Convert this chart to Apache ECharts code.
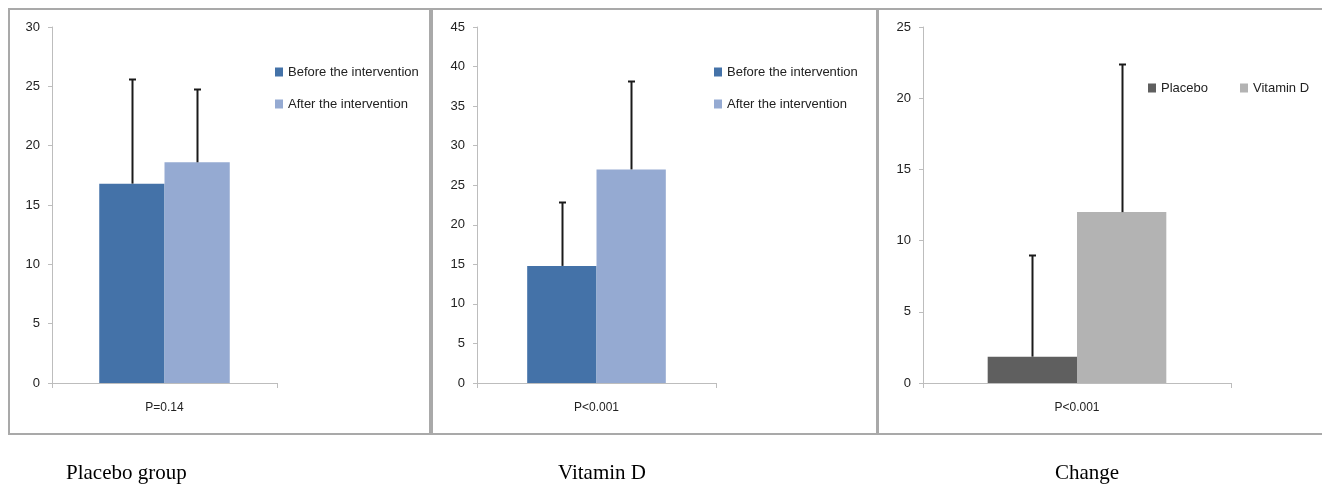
<!DOCTYPE html>
<html>
<head>
<meta charset="utf-8">
<script src="https://cdn.jsdelivr.net/npm/echarts@6/dist/echarts.min.js"></script>
<style>
html,body{margin:0;padding:0;background:#fff;}
#chart{width:1322px;height:490px;}
</style>
</head>
<body>
<div id="chart"></div>
<script>
// ---- Data ----
const categories1 = ['P=0.14'];
const categories2 = ['P<0.001'];
const categories3 = ['P<0.001'];
const legendNames12 = ['Before the intervention', 'After the intervention'];
const legendNames3 = ['Placebo', 'Vitamin D'];
const placeboBefore = [16.8];
const placeboAfter = [18.6];
const placeboBeforeSD = [8.8];
const placeboAfterSD = [6.2];
const vitdBefore = [14.8];
const vitdAfter = [27.0];
const vitdBeforeSD = [8.1];
const vitdAfterSD = [11.2];
const changePlacebo = [1.85];
const changeVitD = [12.0];
const changePlaceboSD = [7.15];
const changeVitDSD = [10.4];
const yMax = [30, 45, 25];
const panelTitles = ['Placebo group', 'Vitamin D', 'Change'];

const GAP = 0.42;
const FONT = 'Liberation Sans';

function errSeries(axisIdx, means, sds, side) {
  return {
    type: 'custom',
    xAxisIndex: axisIdx, yAxisIndex: axisIdx,
    z: 5,
    silent: true,
    data: means.map((m, i) => [i, m, sds[i]]),
    renderItem: function (params, api) {
      const idx = api.value(0);
      const band = api.size([1, 0])[0];
      const barW = band * (1 - GAP) / 2;
      const x0 = api.coord([idx, 0])[0];
      const cx = Math.round(x0 + side * barW / 2) + 0.5;
      const yb = api.coord([idx, api.value(1)])[1];
      const yt = Math.round(api.coord([idx, api.value(1) + api.value(2)])[1]) + 0.5;
      const st = { stroke: '#1a1a1a', lineWidth: 2 };
      return {
        type: 'group',
        children: [
          { type: 'line', shape: { x1: cx, y1: yb, x2: cx, y2: yt }, style: st },
          { type: 'line', shape: { x1: cx - 3.5, y1: yt, x2: cx + 3.5, y2: yt }, style: st }
        ]
      };
    }
  };
}

const grids = [
  { left: 52, top: 27, width: 225, height: 356 },
  { left: 477, top: 27, width: 239, height: 356 },
  { left: 923, top: 27, width: 308, height: 356 }
];
const cats = [categories1, categories2, categories3];

const axisColor = '#bdbdbd';
const xAxes = cats.map((c, i) => ({
  type: 'category', gridIndex: i, data: c,
  axisLine: { lineStyle: { color: axisColor, width: 1 } },
  axisTick: { show: true, length: 5, lineStyle: { color: axisColor } },
  axisLabel: { color: '#222', fontSize: 12, fontFamily: FONT, margin: 19 }
}));
const yAxes = yMax.map((m, i) => ({
  type: 'value', gridIndex: i, min: 0, max: m, interval: 5,
  axisLine: { show: true, lineStyle: { color: axisColor, width: 1 } },
  axisTick: { show: true, length: 4, lineStyle: { color: axisColor } },
  splitLine: { show: false },
  axisLabel: { color: '#222', fontSize: 13, fontFamily: FONT, margin: 12 }
}));

const cBefore = '#4472a8', cAfter = '#95aad2', cPlac = '#5f5f5f', cVit = '#b3b3b3';

function bar(name, axisIdx, data, color) {
  return {
    name: name, type: 'bar', xAxisIndex: axisIdx, yAxisIndex: axisIdx,
    data: data, barGap: '0%', barCategoryGap: (GAP * 100) + '%',
    itemStyle: { color: color }, z: 2
  };
}

const series = [
  bar(legendNames12[0], 0, placeboBefore, cBefore),
  bar(legendNames12[1], 0, placeboAfter, cAfter),
  errSeries(0, placeboBefore, placeboBeforeSD, -1),
  errSeries(0, placeboAfter, placeboAfterSD, 1),
  bar(legendNames12[0], 1, vitdBefore, cBefore),
  bar(legendNames12[1], 1, vitdAfter, cAfter),
  errSeries(1, vitdBefore, vitdBeforeSD, -1),
  errSeries(1, vitdAfter, vitdAfterSD, 1),
  bar(legendNames3[0], 2, changePlacebo, cPlac),
  bar(legendNames3[1], 2, changeVitD, cVit),
  errSeries(2, changePlacebo, changePlaceboSD, -1),
  errSeries(2, changeVitD, changeVitDSD, 1)
];

const legendText = { fontSize: 13, fontFamily: FONT, color: '#222', lineHeight: 14 };
const legendBase = { padding: 0, itemWidth: 8, itemHeight: 9, icon: 'rect', textStyle: legendText, selectedMode: false };
const legends = [
  Object.assign({ data: legendNames12, left: 275, top: 65, orient: 'vertical', itemGap: 18 }, legendBase),
  Object.assign({ data: legendNames12, left: 714, top: 65, orient: 'vertical', itemGap: 18 }, legendBase),
  Object.assign({ data: legendNames3, left: 1148, top: 81, orient: 'horizontal', itemGap: 32 }, legendBase)
];

const frameStyle = { fill: 'none', stroke: '#a9a9a9', lineWidth: 2 };
const graphics = [
  { type: 'rect', shape: { x: 9, y: 9, width: 421, height: 425 }, style: frameStyle, silent: true },
  { type: 'rect', shape: { x: 432, y: 9, width: 445, height: 425 }, style: frameStyle, silent: true },
  { type: 'rect', shape: { x: 878, y: 9, width: 460, height: 425 }, style: frameStyle, silent: true },
  { type: 'text', left: 66, top: 463, style: { text: panelTitles[0], font: '21px "Liberation Serif"', fill: '#000' } },
  { type: 'text', left: 558, top: 463, style: { text: panelTitles[1], font: '21px "Liberation Serif"', fill: '#000' } },
  { type: 'text', left: 1055, top: 463, style: { text: panelTitles[2], font: '21px "Liberation Serif"', fill: '#000' } }
];

const chart = echarts.init(document.getElementById('chart'));
chart.setOption({
  animation: false,
  backgroundColor: '#fff',
  grid: grids,
  xAxis: xAxes,
  yAxis: yAxes,
  legend: legends,
  series: series,
  graphic: graphics
});
</script>
</body>
</html>
